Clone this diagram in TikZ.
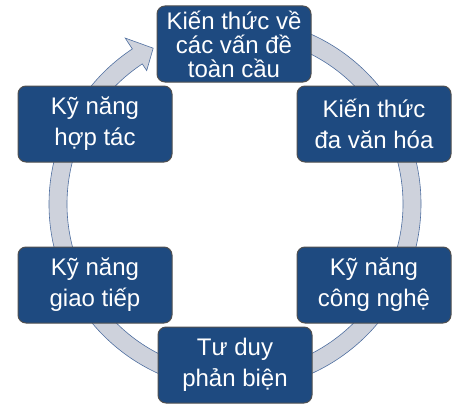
\documentclass[tikz,border=0pt]{standalone}
\usepackage{fontspec}
\setmainfont{Liberation Sans}
\definecolor{boxblue}{RGB}{30,74,128}
\definecolor{boxline}{RGB}{80,80,80}
\definecolor{ringfill}{RGB}{206,210,220}
\definecolor{ringline}{RGB}{79,111,160}
\begin{document}
\begin{tikzpicture}[x=1pt,y=-1pt,
    item/.style={shape=rectangle,rounded corners=8pt,draw=boxline,line width=1pt,
        fill=boxblue,text=white,align=center,minimum width=154pt,minimum height=76pt,
        inner sep=0pt,font=\fontsize{24}{31}\selectfont}]
    \useasboundingbox (0,0) rectangle (465,412);

    % vong mui ten
    \begin{scope}[shift={(235,204)},y=1pt]
    \draw[fill=ringfill,draw=ringline,line width=0.6pt]
        (85:186) arc[start angle=85,end angle=-236.5,radius=186]
        -- (-236.5:199) -- (-242.3:176) -- (-236.5:160) -- (-236.5:168)
        arc[start angle=-236.5,end angle=85,radius=168] -- cycle;
    \end{scope}

    \node[item,font=\fontsize{24}{24}\selectfont] (K0) at (234,44) {Kiến thức về\\các vấn đề\\toàn cầu};
    \node[item] (K1) at (374,124) {Kiến thức\\đa văn hóa};
    \node[item] (K2) at (374,285) {Kỹ năng\\công nghệ};
    \node[item] (K3) at (235,365) {Tư duy\\phản biện};
    \node[item] (K4) at (95,285) {Kỹ năng\\giao tiếp};
    \node[item] (K5) at (95,124) {Kỹ năng\\hợp tác};
\end{tikzpicture}
\end{document}
